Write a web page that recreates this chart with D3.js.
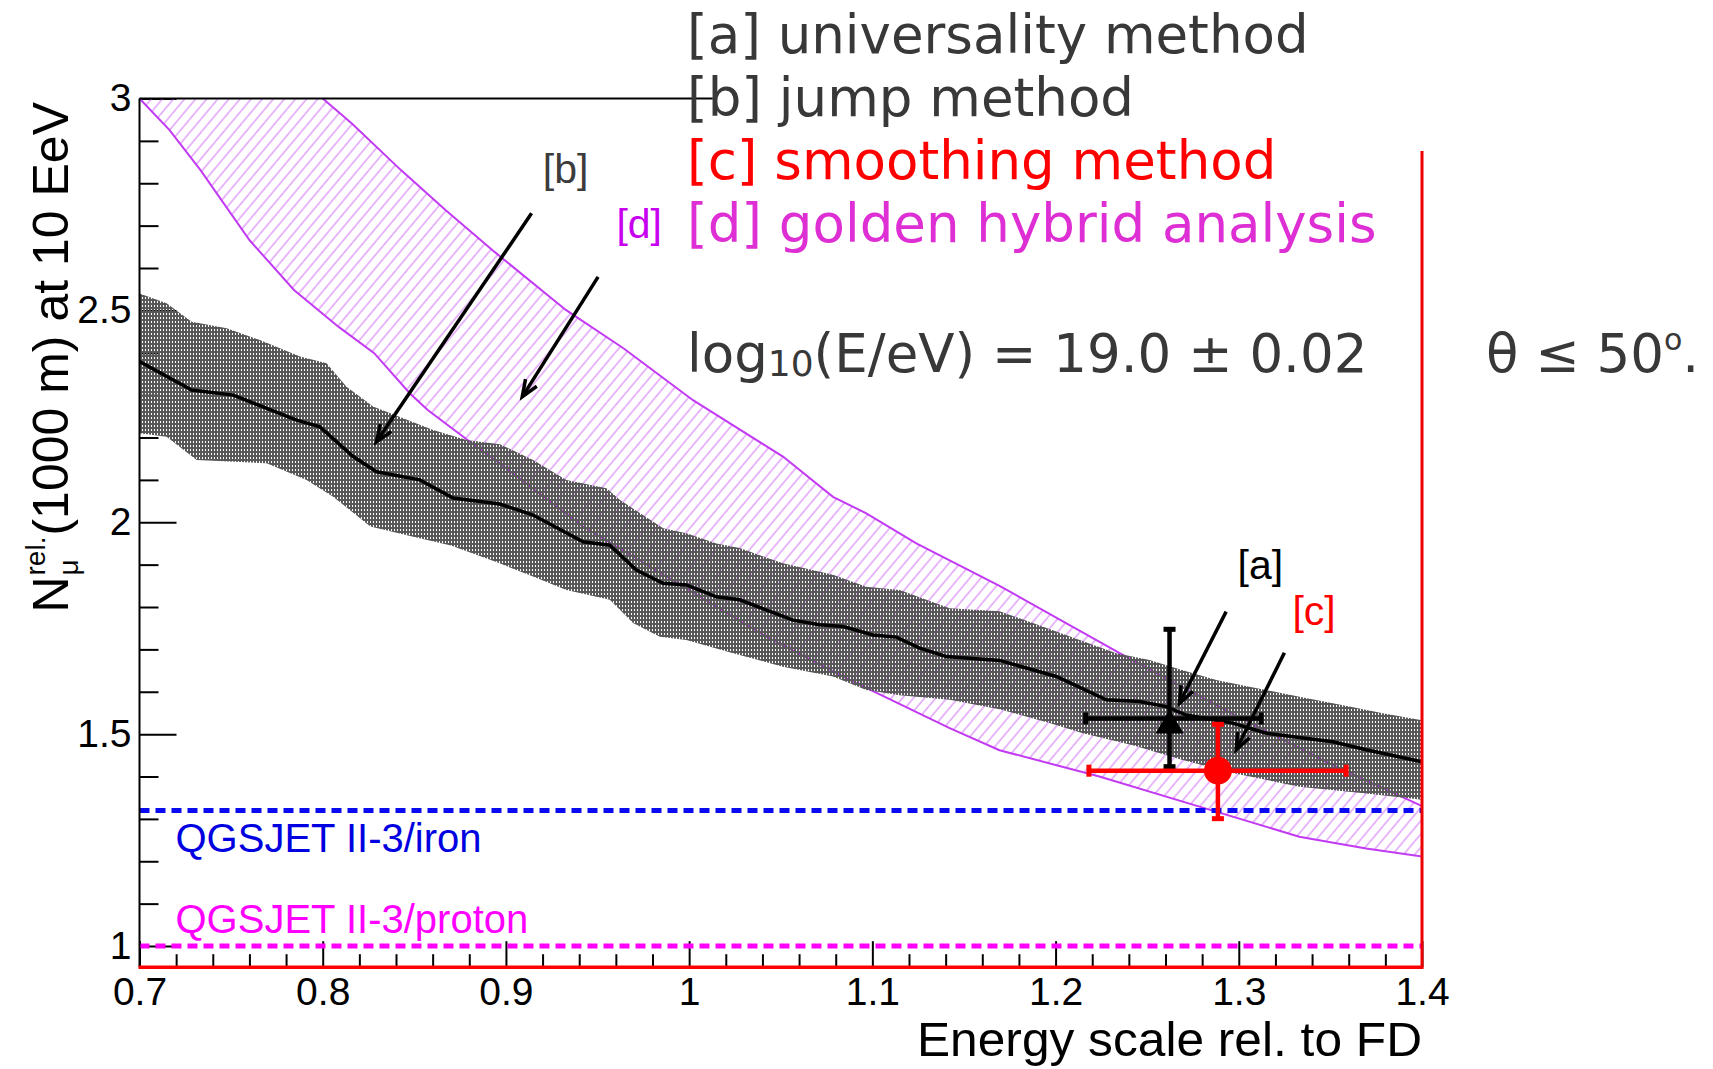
<!DOCTYPE html>
<html><head><meta charset="utf-8">
<script src="https://cdn.jsdelivr.net/npm/d3@7"></script>
<style>body{margin:0;background:#fff;overflow:hidden}</style>
</head><body>
<svg id="c" width="1713" height="1069"></svg>
<script>
// ---------------- data ----------------
const xTicks = [0.7, 0.8, 0.9, 1.0, 1.1, 1.2, 1.3, 1.4];
const xTickLabels = ["0.7", "0.8", "0.9", "1", "1.1", "1.2", "1.3", "1.4"];
const yTicks = [1, 1.5, 2, 2.5, 3];
const yTickLabels = ["1", "1.5", "2", "2.5", "3"];

// [b] jump method : central line and band
const jumpCenter = [[0.700,2.379],[0.7285,2.312],[0.7512,2.300],[0.7858,2.241],[0.7985,2.225],[0.8166,2.155],[0.8294,2.119],[0.8530,2.100],[0.8712,2.057],[0.8966,2.043],[0.9148,2.017],[0.9421,1.954],[0.9567,1.946],[0.9712,1.887],[0.9858,1.856],[0.9985,1.852],[1.0149,1.824],[1.0276,1.817],[1.0567,1.769],[1.0712,1.758],[1.0840,1.754],[1.1003,1.734],[1.1131,1.729],[1.1258,1.703],[1.1404,1.683],[1.1694,1.674],[1.2004,1.636],[1.2277,1.581],[1.2458,1.577],[1.2604,1.565],[1.2713,1.545],[1.2967,1.526],[1.3150,1.502],[1.3513,1.482],[1.3695,1.463],[1.4000,1.435]];
const jumpUpper = [[0.700,2.540],[0.7148,2.517],[0.7285,2.473],[0.7476,2.458],[0.7657,2.430],[0.7876,2.391],[0.8021,2.375],[0.8130,2.320],[0.8275,2.273],[0.8512,2.233],[0.8603,2.218],[0.8785,2.194],[0.8967,2.184],[0.9148,2.147],[0.9330,2.100],[0.9549,2.080],[0.9621,2.053],[0.9858,1.986],[0.9985,1.974],[1.0149,1.950],[1.0276,1.939],[1.0512,1.903],[1.0785,1.876],[1.0967,1.848],[1.1149,1.840],[1.1422,1.797],[1.1694,1.790],[1.1876,1.762],[1.2331,1.691],[1.2513,1.675],[1.2694,1.651],[1.2877,1.628],[1.3058,1.612],[1.3331,1.588],[1.3604,1.565],[1.3786,1.549],[1.4000,1.533]];
const jumpLower = [[0.700,2.210],[0.7148,2.202],[0.7312,2.147],[0.7694,2.139],[0.7912,2.100],[0.8057,2.060],[0.8148,2.029],[0.8260,1.990],[0.8500,1.965],[0.8700,1.945],[0.8966,1.903],[0.9148,1.872],[0.9330,1.840],[0.9567,1.817],[0.9694,1.762],[0.9840,1.730],[0.9985,1.722],[1.0240,1.691],[1.0512,1.659],[1.0785,1.636],[1.0967,1.604],[1.1149,1.592],[1.1422,1.581],[1.1694,1.559],[1.1967,1.526],[1.2149,1.502],[1.2422,1.474],[1.2694,1.439],[1.2967,1.408],[1.3331,1.376],[1.3695,1.360],[1.4000,1.345]];

// [d] golden hybrid analysis : band edges
const goldenUpper = [[0.800,3.000],[0.8159,2.941],[0.8427,2.831],[0.8670,2.737],[0.8938,2.638],[0.9327,2.501],[0.9643,2.410],[1.0021,2.288],[1.0512,2.155],[1.0785,2.060],[1.0967,2.021],[1.1240,1.950],[1.1694,1.850],[1.2367,1.687],[1.3000,1.540],[1.3500,1.430],[1.4000,1.330]];
const goldenLower = [[0.700,3.000],[0.7163,2.926],[0.7333,2.831],[0.7600,2.666],[0.7843,2.548],[0.8087,2.461],[0.8281,2.399],[0.8476,2.304],[0.8573,2.265],[0.8816,2.186],[0.8966,2.139],[0.9421,1.990],[0.9876,1.872],[1.0421,1.730],[1.0876,1.628],[1.1422,1.514],[1.1694,1.462],[1.2239,1.400],[1.2785,1.329],[1.3330,1.258],[1.3695,1.230],[1.4000,1.211]];

// reference levels
const modelLevels = [1.32, 1.0];
const modelNames = ["QGSJET II-3/iron", "QGSJET II-3/proton"];

// [a] universality and [c] smoothing measurements: x, y, xlo, xhi, ylo, yhi
const universalityPoint = [1.2622, 1.537, 1.2164, 1.3122, 1.4232, 1.7474];
const smoothingPoint = [1.2886, 1.4137, 1.2182, 1.3586, 1.3005, 1.5232];

// annotation labels (x, y in data units) and arrows (x1,y1 -> x2,y2)
const annLabels = ["[b]", "[d]", "[a]", "[c]"];
const annPos = [[0.9201, 2.800], [0.9603, 2.670], [1.2993, 1.865], [1.3293, 1.758]];
const annArrows = [[0.9140, 2.729, 0.8293, 2.190], [0.9503, 2.579, 0.9089, 2.296], [1.2931, 1.789, 1.2676, 1.573], [1.3249, 1.692, 1.2986, 1.463]];

const legendTexts = ["[a] universality method", "[b] jump method", "[c] smoothing method", "[d] golden hybrid analysis"];

// frame extents (data units)
const frameTopEnd = 1.0129;
const frameRightTop = 2.876;

// ---------------- drawing ----------------
const svg = d3.select("#c");
const x = d3.scaleLinear().domain([0.7, 1.4]).range([139.5, 1422]);
const y = d3.scaleLinear().domain([0.95, 3]).range([967.2, 98.5]);
const ROOTF = "'Liberation Sans', Arial, Helvetica, sans-serif";
const DJ = "'DejaVu Sans', sans-serif";

const defs = svg.append("defs");
const hatch = defs.append("pattern").attr("id", "hatch").attr("patternUnits", "userSpaceOnUse")
  .attr("width", 8.5).attr("height", 10).attr("patternTransform", "rotate(40)");
hatch.append("line").attr("x1", 1).attr("x2", 1).attr("y1", 0).attr("y2", 10)
  .attr("stroke", "#d67ff7").attr("stroke-width", 1.1);
const dots = defs.append("pattern").attr("id", "dots").attr("patternUnits", "userSpaceOnUse")
  .attr("width", 3).attr("height", 4);
dots.append("path").attr("d", "M0,0H3V4H0Z M1,1h1v2h-1z")
  .attr("fill", "#585858").attr("fill-rule", "evenodd");
defs.append("clipPath").attr("id", "plotclip").append("rect")
  .attr("x", x(0.7)).attr("y", y(3)).attr("width", x(1.4) - x(0.7)).attr("height", y(0.95) - y(3));

// axes (drawn first so the band covers them)
const yMinor = d3.range(1.0, 3.0001, 0.1).map(v => +v.toFixed(2)).filter(v => !yTicks.includes(v));
const xMinor = d3.range(0.7, 1.4001, 0.02).map(v => +v.toFixed(3)).filter(v => !xTicks.some(t => Math.abs(t - v) < 1e-6));

const gy = svg.append("g").attr("transform", `translate(${x(0.7)},0)`)
  .call(d3.axisLeft(y).tickValues(yTicks).tickSize(-37).tickPadding(8).tickFormat((d, i) => yTickLabels[i]));
const gy2 = svg.append("g").attr("transform", `translate(${x(0.7)},0)`)
  .call(d3.axisLeft(y).tickValues(yMinor).tickSize(-19).tickFormat(""));
const gx = svg.append("g").attr("transform", `translate(0,${y(0.95)})`)
  .call(d3.axisBottom(x).tickValues(xTicks).tickSize(-26).tickPadding(10).tickFormat((d, i) => xTickLabels[i]));
const gx2 = svg.append("g").attr("transform", `translate(0,${y(0.95)})`)
  .call(d3.axisBottom(x).tickValues(xMinor).tickSize(-13).tickFormat(""));
[gy, gy2, gx, gx2].forEach(g => {
  g.select(".domain").remove();
  g.selectAll("line").attr("stroke", "#000").attr("stroke-width", 2);
  g.selectAll("text").attr("font-family", ROOTF).attr("font-size", 39).attr("fill", "#000");
});

const plot = svg.append("g").attr("clip-path", "url(#plotclip)");
const line = d3.line().x(d => x(d[0])).y(d => y(d[1]));
const poly = (up, lo) => line(up) + "L" + lo.slice().reverse().map(d => x(d[0]) + "," + y(d[1])).join("L") + "Z";

// golden hybrid band
plot.append("path").attr("d", poly(goldenUpper, goldenLower)).attr("fill", "url(#hatch)");
plot.append("path").attr("d", line(goldenUpper)).attr("fill", "none").attr("stroke", "#c23bf2").attr("stroke-width", 2);
plot.append("path").attr("d", line(goldenLower)).attr("fill", "none").attr("stroke", "#c23bf2").attr("stroke-width", 2);

// jump band
plot.append("path").attr("d", poly(jumpUpper, jumpLower)).attr("fill", "url(#dots)");
plot.append("path").attr("d", line(jumpCenter)).attr("fill", "none").attr("stroke", "#000").attr("stroke-width", 3.5);

// model levels
const levelColors = ["#0a0af0", "#ff00ff"];
modelLevels.forEach((v, i) => {
  plot.append("line").attr("x1", x(0.7)).attr("x2", x(1.4)).attr("y1", y(v)).attr("y2", y(v))
    .attr("stroke", levelColors[i]).attr("stroke-width", 5).attr("stroke-dasharray", "10,6");
});
svg.append("text").attr("x", x(0.7) + 36).attr("y", y(modelLevels[0]) + 42).text(modelNames[0])
  .attr("font-family", ROOTF).attr("font-size", 40).attr("fill", "#0000e0");
svg.append("text").attr("x", x(0.7) + 36).attr("y", y(modelLevels[1]) - 13).text(modelNames[1])
  .attr("font-family", ROOTF).attr("font-size", 40).attr("fill", "#ff00ff");

// frame
svg.append("line").attr("x1", x(0.7)).attr("x2", x(0.7)).attr("y1", y(3)).attr("y2", y(0.95)).attr("stroke", "#000").attr("stroke-width", 2);
svg.append("line").attr("x1", x(0.7)).attr("x2", x(frameTopEnd)).attr("y1", y(3)).attr("y2", y(3)).attr("stroke", "#000").attr("stroke-width", 2);
svg.append("line").attr("x1", x(0.7) - 1).attr("x2", x(1.4) + 1.5).attr("y1", y(0.95)).attr("y2", y(0.95)).attr("stroke", "#f00").attr("stroke-width", 3.5);
svg.append("line").attr("x1", x(1.4)).attr("x2", x(1.4)).attr("y1", y(frameRightTop)).attr("y2", y(0.95)).attr("stroke", "#e00").attr("stroke-width", 3);

// measurement points
function errPoint(p, color) {
  const g = svg.append("g");
  const [px, py, xlo, xhi, ylo, yhi] = p;
  g.append("line").attr("x1", x(xlo)).attr("x2", x(xhi)).attr("y1", y(py)).attr("y2", y(py)).attr("stroke", color).attr("stroke-width", 4.5);
  g.append("line").attr("x1", x(px)).attr("x2", x(px)).attr("y1", y(ylo)).attr("y2", y(yhi)).attr("stroke", color).attr("stroke-width", 4.5);
  [xlo, xhi].forEach(v => g.append("line").attr("x1", x(v)).attr("x2", x(v)).attr("y1", y(py) - 6).attr("y2", y(py) + 6).attr("stroke", color).attr("stroke-width", 5));
  [ylo, yhi].forEach(v => g.append("line").attr("x1", x(px) - 6).attr("x2", x(px) + 6).attr("y1", y(v)).attr("y2", y(v)).attr("stroke", color).attr("stroke-width", 5));
  return g;
}
const ga = errPoint(universalityPoint, "#000");
ga.append("path").attr("transform", `translate(${x(universalityPoint[0])},${y(universalityPoint[1]) + 3})`)
  .attr("d", "M0,-12L14,12L-14,12Z").attr("fill", "#000");
const gc = errPoint(smoothingPoint, "#f00");
gc.append("circle").attr("cx", x(smoothingPoint[0])).attr("cy", y(smoothingPoint[1])).attr("r", 14).attr("fill", "#f00");

// annotation arrows and labels
const annColors = ["#3c3c3c", "#c800f0", "#000", "#ff0000"];
annArrows.forEach(a => {
  const x1 = x(a[0]), y1 = y(a[1]), x2 = x(a[2]), y2 = y(a[3]);
  const ang = Math.atan2(y2 - y1, x2 - x1), L = 18, h = 0.38;
  svg.append("line").attr("x1", x1).attr("y1", y1).attr("x2", x2).attr("y2", y2).attr("stroke", "#000").attr("stroke-width", 3.5);
  svg.append("path").attr("d", `M${x2 - L * Math.cos(ang - h)},${y2 - L * Math.sin(ang - h)}L${x2},${y2}L${x2 - L * Math.cos(ang + h)},${y2 - L * Math.sin(ang + h)}`)
    .attr("fill", "none").attr("stroke", "#000").attr("stroke-width", 3.5).attr("stroke-linejoin", "miter");
});
annLabels.forEach((t, i) => {
  svg.append("text").attr("x", x(annPos[i][0])).attr("y", y(annPos[i][1])).text(t)
    .attr("font-family", ROOTF).attr("font-size", 41).attr("fill", annColors[i]);
});

// legend texts
const legColors = ["#383838", "#383838", "#ff0000", "#dd2fd3"];
legendTexts.forEach((t, i) => {
  svg.append("text").attr("x", 687).attr("y", 53 + i * 63).text(t)
    .attr("font-family", DJ).attr("font-size", 53).attr("fill", legColors[i]);
});
const le = svg.append("text").attr("x", 687).attr("y", 372).attr("font-family", DJ).attr("font-size", 53).attr("fill", "#383838");
le.append("tspan").text("log");
le.append("tspan").attr("font-size", 36).attr("dy", 4).text("10");
le.append("tspan").attr("dy", -4).text("(E/eV) = 19.0 ± 0.02");
const th = svg.append("text").attr("x", 1486).attr("y", 372).attr("font-family", DJ).attr("font-size", 53).attr("fill", "#383838");
th.append("tspan").text("θ ≤ 50");
th.append("tspan").attr("font-size", 30).attr("dy", -22).text("o");
th.append("tspan").attr("dy", 22).text(".");

// axis titles
svg.append("text").attr("x", x(1.4)).attr("y", 1056).attr("text-anchor", "end").text("Energy scale rel. to FD")
  .attr("font-family", ROOTF).attr("font-size", 48).attr("fill", "#000")
  .attr("textLength", 505).attr("lengthAdjust", "spacingAndGlyphs");
const yl = svg.append("g").attr("transform", "translate(68,102) rotate(-90)")
  .attr("font-family", ROOTF).attr("fill", "#000");
const main = yl.append("text").attr("x", 0).attr("y", 0).attr("text-anchor", "end").attr("font-size", 50).text("(1000 m) at 10 EeV");
const wMain = main.node().getComputedTextLength();
const sup = yl.append("text").attr("font-size", 28).text("rel.");
const wSup = sup.node().getComputedTextLength();
sup.attr("x", -wMain - wSup - 1).attr("y", -23);
yl.append("text").attr("font-size", 28).attr("x", -wMain - wSup - 1).attr("y", 10).text("μ");
const nT = yl.append("text").attr("font-size", 50).text("N");
const wN = nT.node().getComputedTextLength();
nT.attr("x", -wMain - wSup - 2 - wN).attr("y", 0);
</script>
</body></html>
